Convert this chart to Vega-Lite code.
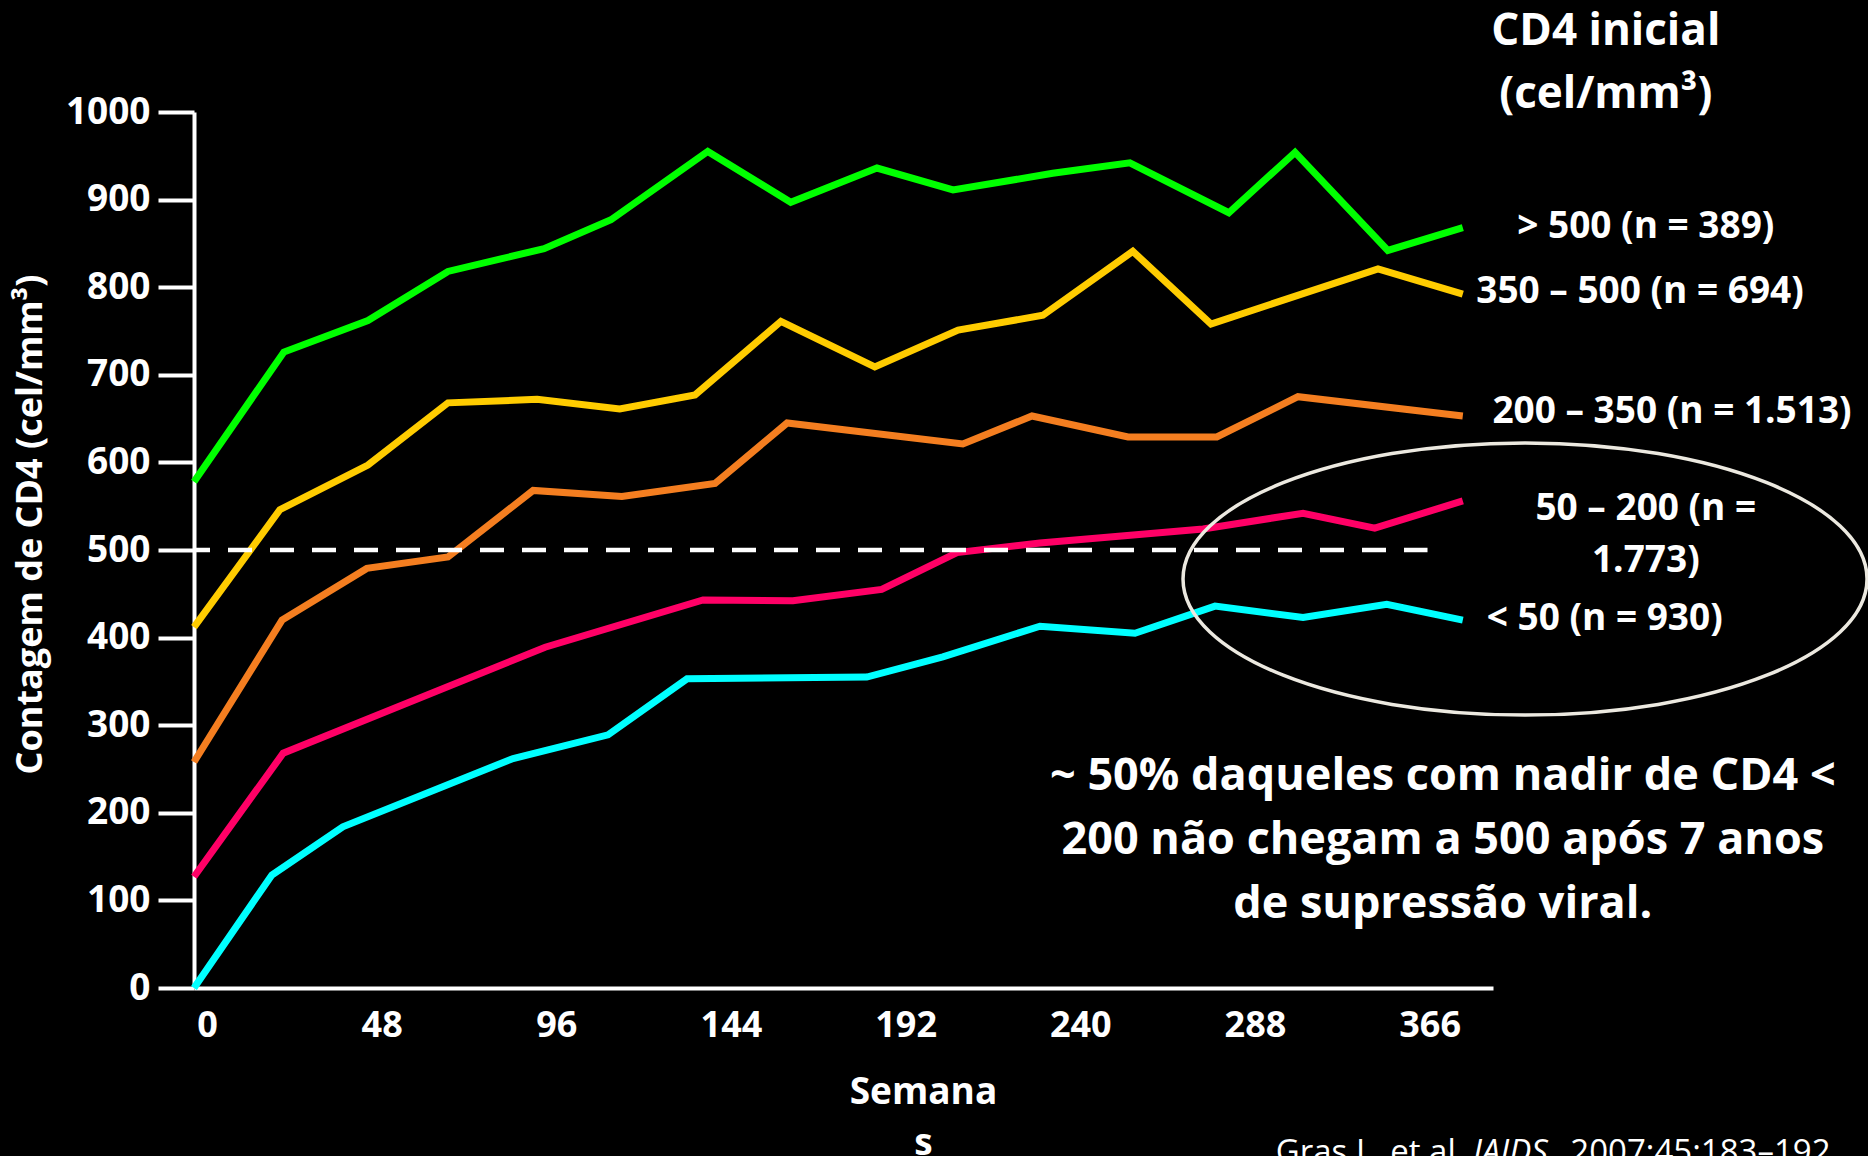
{
  "$schema": "https://vega.github.io/schema/vega-lite/v6.json",
  "width": 1299,
  "height": 876,
  "autosize": {"type": "none"},
  "padding": {"left": 194, "top": 112, "right": 375, "bottom": 168},
  "background": "#000000",
  "config": {"view": {"stroke": null}, "font": "Open Sans"},
  "datasets": {
    "cd4": [
      {"s": ">500", "w": 0, "v": 578}, {"s": ">500", "w": 24.7, "v": 726}, {"s": ">500", "w": 47.8, "v": 762}, {"s": ">500", "w": 69.8, "v": 818},
      {"s": ">500", "w": 96.2, "v": 844}, {"s": ">500", "w": 114.6, "v": 877}, {"s": ">500", "w": 141.2, "v": 955}, {"s": ">500", "w": 164, "v": 897},
      {"s": ">500", "w": 187.7, "v": 936}, {"s": ">500", "w": 208.6, "v": 911}, {"s": ">500", "w": 236, "v": 930}, {"s": ">500", "w": 257.2, "v": 942},
      {"s": ">500", "w": 284.4, "v": 885}, {"s": ">500", "w": 302.6, "v": 954}, {"s": ">500", "w": 328.1, "v": 842}, {"s": ">500", "w": 348.7, "v": 868},
      {"s": "350-500", "w": 0, "v": 412}, {"s": "350-500", "w": 23.6, "v": 546}, {"s": "350-500", "w": 47.8, "v": 597}, {"s": "350-500", "w": 69.8, "v": 668},
      {"s": "350-500", "w": 94.3, "v": 672}, {"s": "350-500", "w": 117, "v": 661}, {"s": "350-500", "w": 137.7, "v": 677}, {"s": "350-500", "w": 161.3, "v": 761},
      {"s": "350-500", "w": 187.1, "v": 709}, {"s": "350-500", "w": 210, "v": 751}, {"s": "350-500", "w": 233.3, "v": 768}, {"s": "350-500", "w": 258, "v": 841},
      {"s": "350-500", "w": 279.5, "v": 758}, {"s": "350-500", "w": 325.4, "v": 821}, {"s": "350-500", "w": 348.7, "v": 792},
      {"s": "200-350", "w": 0, "v": 258}, {"s": "200-350", "w": 24.2, "v": 420}, {"s": "200-350", "w": 47.5, "v": 479}, {"s": "200-350", "w": 69.8, "v": 492},
      {"s": "200-350", "w": 93.2, "v": 568}, {"s": "200-350", "w": 117.6, "v": 561}, {"s": "200-350", "w": 143.2, "v": 576}, {"s": "200-350", "w": 163, "v": 645},
      {"s": "200-350", "w": 211.3, "v": 621}, {"s": "200-350", "w": 230.3, "v": 653}, {"s": "200-350", "w": 256.7, "v": 629}, {"s": "200-350", "w": 281.1, "v": 629},
      {"s": "200-350", "w": 303.4, "v": 675}, {"s": "200-350", "w": 348.7, "v": 653},
      {"s": "50-200", "w": 0, "v": 127}, {"s": "50-200", "w": 24.5, "v": 268}, {"s": "50-200", "w": 96.5, "v": 389}, {"s": "50-200", "w": 139.9, "v": 443},
      {"s": "50-200", "w": 164.6, "v": 442}, {"s": "50-200", "w": 189, "v": 455}, {"s": "50-200", "w": 209.7, "v": 497}, {"s": "50-200", "w": 232.5, "v": 508},
      {"s": "50-200", "w": 277.3, "v": 524}, {"s": "50-200", "w": 304.8, "v": 542}, {"s": "50-200", "w": 324.5, "v": 525}, {"s": "50-200", "w": 348.7, "v": 556},
      {"s": "<50", "w": 0, "v": 0}, {"s": "<50", "w": 21.4, "v": 129}, {"s": "<50", "w": 40.9, "v": 184}, {"s": "<50", "w": 87.7, "v": 262},
      {"s": "<50", "w": 113.8, "v": 289}, {"s": "<50", "w": 135.5, "v": 353}, {"s": "<50", "w": 184.9, "v": 355}, {"s": "<50", "w": 205.8, "v": 378},
      {"s": "<50", "w": 232.5, "v": 413}, {"s": "<50", "w": 258.6, "v": 405}, {"s": "<50", "w": 280.6, "v": 436}, {"s": "<50", "w": 304.8, "v": 423},
      {"s": "<50", "w": 327.8, "v": 438}, {"s": "<50", "w": 348.7, "v": 420}
    ],
    "ref": [{"v": 500, "w0": 0, "w1": 339}],
    "one": [{}]
  },
  "layer": [
    {
      "data": {"name": "cd4"},
      "mark": {"type": "line", "strokeWidth": 7, "strokeJoin": "miter", "strokeCap": "butt", "clip": false},
      "encoding": {
        "x": {
          "field": "w", "type": "quantitative",
          "scale": {"domain": [0, 357], "nice": false, "zero": false},
          "axis": {
            "values": [0, 48, 96, 144, 192, 240, 288, 336],
            "labelExpr": "datum.value == 336 ? '366' : datum.label",
            "ticks": false, "grid": false,
            "domainColor": "#ffffff", "domainWidth": 4,
            "labelColor": "#ffffff", "labelFont": "Open Sans", "labelFontSize": 36, "labelFontWeight": "bold",
            "labelPadding": 20, "labelOffset": 13, "labelFlush": false, "labelOverlap": false,
            "title": ["Semana", "s"], "titleColor": "#ffffff", "titleFont": "Open Sans", "titleFontSize": 37, "titleFontWeight": "bold",
            "titleX": 729, "titleY": 115, "titleAlign": "center", "titleBaseline": "alphabetic", "titleLineHeight": 51
          }
        },
        "y": {
          "field": "v", "type": "quantitative",
          "scale": {"domain": [0, 1000], "nice": false},
          "axis": {
            "values": [0, 100, 200, 300, 400, 500, 600, 700, 800, 900, 1000],
            "format": "d",
            "grid": false,
            "domainColor": "#ffffff", "domainWidth": 4,
            "tickColor": "#ffffff", "tickWidth": 4, "tickSize": 36,
            "labelColor": "#ffffff", "labelFont": "Open Sans", "labelFontSize": 37, "labelFontWeight": "bold", "labelPadding": 8,
            "title": "Contagem de CD4 (cel/mm³)", "titleColor": "#ffffff", "titleFont": "Open Sans", "titleFontSize": 36, "titleFontWeight": "bold",
            "titleX": -164, "titleY": 412, "titleAngle": -90, "titleAlign": "center", "titleBaseline": "middle"
          }
        },
        "color": {
          "field": "s", "type": "nominal",
          "scale": {"domain": [">500", "350-500", "200-350", "50-200", "<50"], "range": ["#00FF00", "#FFCC00", "#F47E20", "#FF0066", "#00FFFF"]},
          "legend": null
        }
      }
    },
    {
      "data": {"name": "ref"},
      "mark": {"type": "rule", "color": "#ffffff", "strokeWidth": 4.5, "strokeDash": [24, 18], "strokeDashOffset": 8},
      "encoding": {
        "x": {"field": "w0", "type": "quantitative"},
        "x2": {"field": "w1"},
        "y": {"field": "v", "type": "quantitative"}
      }
    },
    {
      "data": {"name": "one"},
      "mark": {"type": "point", "shape": "M -1 0 A 1 0.398 0 1 0 1 0 A 1 0.398 0 1 0 -1 0 Z", "size": 467856, "filled": false, "stroke": "#ECE9E0", "strokeWidth": 3.5, "opacity": 1, "clip": false},
      "encoding": {"x": {"datum": 365.8, "type": "quantitative"}, "y": {"datum": 466.9, "type": "quantitative"}}
    },
    {
      "data": {"name": "one"},
      "mark": {"type": "text", "text": ["CD4 inicial", "(cel/mm³)"], "lineHeight": 63, "align": "center", "baseline": "alphabetic", "font": "Open Sans", "fontWeight": "bold", "fontSize": 44, "fill": "#ffffff", "clip": false},
      "encoding": {"x": {"datum": 388.0, "type": "quantitative"}, "y": {"datum": 1076.5, "type": "quantitative"}}
    },
    {
      "data": {"name": "one"},
      "mark": {"type": "text", "text": "> 500 (n = 389)", "align": "center", "baseline": "alphabetic", "font": "Open Sans", "fontWeight": "bold", "fontSize": 37, "fill": "#ffffff"},
      "encoding": {"x": {"datum": 399.0, "type": "quantitative"}, "y": {"datum": 856.2, "type": "quantitative"}}
    },
    {
      "data": {"name": "one"},
      "mark": {"type": "text", "text": "350 – 500 (n = 694)", "align": "center", "baseline": "alphabetic", "font": "Open Sans", "fontWeight": "bold", "fontSize": 37, "fill": "#ffffff"},
      "encoding": {"x": {"datum": 397.4, "type": "quantitative"}, "y": {"datum": 782.0, "type": "quantitative"}}
    },
    {
      "data": {"name": "one"},
      "mark": {"type": "text", "text": "200 – 350 (n = 1.513)", "align": "center", "baseline": "alphabetic", "font": "Open Sans", "fontWeight": "bold", "fontSize": 37, "fill": "#ffffff"},
      "encoding": {"x": {"datum": 406.2, "type": "quantitative"}, "y": {"datum": 645.0, "type": "quantitative"}}
    },
    {
      "data": {"name": "one"},
      "mark": {"type": "text", "text": ["50 – 200 (n =", "1.773)"], "lineHeight": 52, "align": "center", "baseline": "alphabetic", "font": "Open Sans", "fontWeight": "bold", "fontSize": 37, "fill": "#ffffff"},
      "encoding": {"x": {"datum": 399.0, "type": "quantitative"}, "y": {"datum": 534.2, "type": "quantitative"}}
    },
    {
      "data": {"name": "one"},
      "mark": {"type": "text", "text": "< 50 (n = 930)", "align": "center", "baseline": "alphabetic", "font": "Open Sans", "fontWeight": "bold", "fontSize": 37, "fill": "#ffffff"},
      "encoding": {"x": {"datum": 387.7, "type": "quantitative"}, "y": {"datum": 408.7, "type": "quantitative"}}
    },
    {
      "data": {"name": "one"},
      "mark": {"type": "text", "text": ["~ 50% daqueles com nadir de CD4 <", "200 não chegam a 500 após 7 anos", "de supressão viral."], "lineHeight": 64, "align": "center", "baseline": "alphabetic", "font": "Open Sans", "fontWeight": "bold", "fontSize": 45, "fill": "#ffffff"},
      "encoding": {"x": {"datum": 343.2, "type": "quantitative"}, "y": {"datum": 226.0, "type": "quantitative"}}
    },
    {
      "data": {"name": "one"},
      "mark": {"type": "text", "text": "Gras L, et al. ", "align": "left", "baseline": "alphabetic", "font": "Open Sans", "fontSize": 33, "fill": "#ffffff"},
      "encoding": {"x": {"datum": 297.3, "type": "quantitative"}, "y": {"datum": -199.8, "type": "quantitative"}}
    },
    {
      "data": {"name": "one"},
      "mark": {"type": "text", "text": "JAIDS", "align": "left", "baseline": "alphabetic", "font": "Open Sans", "fontStyle": "italic", "fontSize": 33, "fill": "#ffffff"},
      "encoding": {"x": {"datum": 351.5, "type": "quantitative"}, "y": {"datum": -199.8, "type": "quantitative"}}
    },
    {
      "data": {"name": "one"},
      "mark": {"type": "text", "text": ". 2007;45:183–192", "align": "left", "baseline": "alphabetic", "font": "Open Sans", "fontSize": 33, "fill": "#ffffff"},
      "encoding": {"x": {"datum": 373.5, "type": "quantitative"}, "y": {"datum": -199.8, "type": "quantitative"}}
    }
  ]
}
